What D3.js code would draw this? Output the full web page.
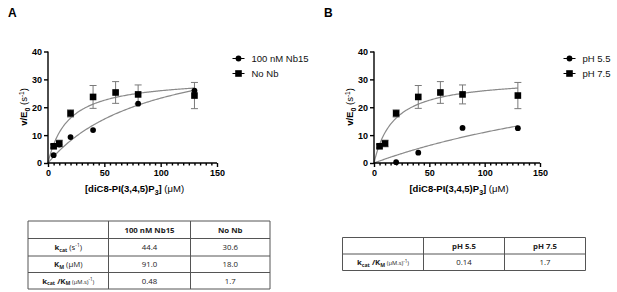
<!DOCTYPE html>
<html><head><meta charset="utf-8">
<script src="https://cdn.jsdelivr.net/npm/d3@7"></script>
<style>body{margin:0;background:#fff}svg{display:block}</style>
</head><body>
<svg id="c" width="617" height="292"></svg>
<script>
// ---- data ----
const conc = [5, 10, 20, 40, 60, 80, 130];
const noNb = [6.0, 7.0, 17.8, 23.7, 25.3, 24.6, 24.2];
const noNbErr = [0.6, 1.2, 1.3, 4.1, 3.9, 3.4, 4.7];
const nb15Conc = [5, 10, 20, 40, 80, 130];
const nb15 = [2.8, 6.6, 9.3, 11.8, 21.3, 26.0];
const ph55Conc = [20, 40, 80, 130];
const ph55 = [0.3, 3.7, 12.6, 12.5];
// Michaelis-Menten fit parameters [Vmax, Km]
const fitNoNb = [30.6, 18.0];
const fitNb15 = [44.4, 91.0];
const fitPh55 = [44.0, 300.0];
const xTicks = [0, 50, 100, 150];
const yTicks = [0, 10, 20, 30, 40];
const legendA = ["100 nM Nb15", "No Nb"];
const legendB = ["pH 5.5", "pH 7.5"];
const tableAHead = ["", "100 nM Nb15", "No Nb"];
const tableARows = [["kcat", "44.4", "30.6"], ["KM", "91.0", "18.0"], ["ratio", "0.48", "1.7"]];
const tableBHead = ["", "pH 5.5", "pH 7.5"];
const tableBRows = [["ratio", "0.14", "1.7"]];

const svg = d3.select("#c");
const FONT = "'Liberation Sans', Arial, sans-serif";

function panel(x0, x1, letterX, opts) {
  const g = svg.append("g");
  const x = d3.scaleLinear().domain([0, 150]).range([x0, x1]);
  const y = d3.scaleLinear().domain([0, 40]).range([163, 51.5]);
  g.append("text").attr("x", letterX).attr("y", 17).attr("font-family", FONT)
    .attr("font-weight", "bold").attr("font-size", 12).text(opts.letter);
  const line = d3.line().x(d => x(d[0])).y(d => y(d[1]));
  opts.fits.forEach(p => {
    const pts = d3.range(0, 130.01, 1).map(s => [s, p[0] * s / (p[1] + s)]);
    g.append("path").attr("d", line(pts)).attr("fill", "none")
      .attr("stroke", "#8a8a8a").attr("stroke-width", 1.2);
  });
  conc.forEach((c, i) => {
    const cx = x(c), lo = y(noNb[i] - noNbErr[i]), hi = y(noNb[i] + noNbErr[i]);
    g.append("line").attr("x1", cx).attr("x2", cx).attr("y1", lo).attr("y2", hi)
      .attr("stroke", "#7a7a7a").attr("stroke-width", 1);
    [lo, hi].forEach(yy => g.append("line").attr("x1", cx - 3.5).attr("x2", cx + 3.5)
      .attr("y1", yy).attr("y2", yy).attr("stroke", "#7a7a7a").attr("stroke-width", 1));
  });
  opts.circX.forEach((c, i) => {
    g.append("circle").attr("cx", x(c)).attr("cy", y(opts.circY[i])).attr("r", 2.9).attr("fill", "#000");
  });
  conc.forEach((c, i) => {
    g.append("rect").attr("x", x(c) - 3.3).attr("y", y(noNb[i]) - 3.3)
      .attr("width", 6.6).attr("height", 6.6).attr("fill", "#000");
  });
  const xa = g.append("g").attr("transform", `translate(0,${y(0)})`)
    .call(d3.axisBottom(x).tickValues(xTicks).tickSize(4).tickPadding(3).tickFormat(d3.format("d")));
  const xm = g.append("g").attr("transform", `translate(0,${y(0)})`)
    .call(d3.axisBottom(x).tickValues(d3.range(5, 150, 5).filter(v => v % 50)).tickSize(2.5).tickFormat(""));
  xm.select(".domain").remove();
  const ya = g.append("g").attr("transform", `translate(${x(0)},0)`)
    .call(d3.axisLeft(y).tickValues(yTicks).tickSize(4).tickPadding(2).tickFormat(d3.format("d")));
  [xa, xm, ya].forEach(a => {
    a.selectAll("path,line").attr("stroke", "#000").attr("stroke-width", 1.4);
    a.selectAll("text").attr("font-family", FONT).attr("font-weight", "bold")
      .attr("font-size", 9).attr("fill", "#000");
  });
  xa.select(".domain").attr("d", `M${x0},0H${x1}`);
  ya.select(".domain").attr("d", `M0,${y(0)}V${y(40)}`);
  const xt = g.append("text").attr("x", (x0 + x1) / 2 + 2).attr("y", 192)
    .attr("text-anchor", "middle").attr("font-family", FONT).attr("font-size", 9.5);
  xt.append("tspan").attr("font-weight", "bold").text("[diC8-PI(3,4,5)P");
  xt.append("tspan").attr("font-weight", "bold").attr("font-size", 7).attr("dy", 2.5).text("3");
  xt.append("tspan").attr("font-weight", "bold").attr("dy", -2.5).text("]");
  xt.append("tspan").text(" (μM)");
  const yt = g.append("text").attr("transform", `translate(${x0 - 21},107) rotate(-90)`)
    .attr("text-anchor", "middle").attr("font-family", FONT).attr("font-size", 9.5);
  yt.append("tspan").attr("font-weight", "bold").text("v/E");
  yt.append("tspan").attr("font-weight", "bold").attr("font-size", 7).attr("dy", 2.5).text("0");
  yt.append("tspan").attr("dy", -2.5).text(" (s");
  yt.append("tspan").attr("font-size", 6.5).attr("dy", -3.5).text("-1");
  yt.append("tspan").attr("dy", 3.5).text(")");
  opts.legend.forEach((t, i) => {
    const ly = 58.5 + i * 15, lx = opts.legX;
    g.append("line").attr("x1", lx - 6).attr("x2", lx + 6).attr("y1", ly).attr("y2", ly)
      .attr("stroke", "#000").attr("stroke-width", 1);
    if (i === 0) g.append("circle").attr("cx", lx).attr("cy", ly).attr("r", 2.9).attr("fill", "#000");
    else g.append("rect").attr("x", lx - 3.3).attr("y", ly - 3.3).attr("width", 6.6).attr("height", 6.6).attr("fill", "#000");
    g.append("text").attr("x", lx + 13).attr("y", ly + 3.3).attr("font-family", FONT)
      .attr("font-size", 9.5).attr("fill", "#111").text(t);
  });
}

panel(48, 217, 8, { letter: "A", fits: [fitNoNb, fitNb15], circX: nb15Conc, circY: nb15, legend: legendA, legX: 238.5 });
panel(374, 540, 324, { letter: "B", fits: [fitNoNb, fitPh55], circX: ph55Conc, circY: ph55, legend: legendB, legX: 569.5 });

// ---- tables ----
const TF = "'Open Sans', 'Liberation Sans', sans-serif";
function rowLabel(t, key) {
  if (key === "kcat") {
    t.append("tspan").attr("font-weight", "bold").text("k");
    t.append("tspan").attr("font-weight", "bold").attr("font-size", 5.2).attr("dy", 1.8).text("cat");
    t.append("tspan").attr("dy", -1.8).text(" (s");
    t.append("tspan").attr("font-size", 5).attr("dy", -2.6).text("-1");
    t.append("tspan").attr("dy", 2.6).text(")");
  } else if (key === "KM") {
    t.append("tspan").attr("font-weight", "bold").text("K");
    t.append("tspan").attr("font-weight", "bold").attr("font-size", 5.2).attr("dy", 1.8).text("M");
    t.append("tspan").attr("dy", -1.8).text(" (μM)");
  } else {
    t.append("tspan").attr("font-weight", "bold").text("k");
    t.append("tspan").attr("font-weight", "bold").attr("font-size", 5.2).attr("dy", 1.8).text("cat");
    t.append("tspan").attr("font-weight", "bold").attr("dy", -1.8).text(" /K");
    t.append("tspan").attr("font-weight", "bold").attr("font-size", 5.2).attr("dy", 1.8).text("M");
    t.append("tspan").attr("font-size", 5.8).attr("dy", -1.8).text(" (μM.s)");
    t.append("tspan").attr("font-size", 4.6).attr("dy", -2.3).text("-1");
    t.append("tspan").attr("font-size", 5.8).attr("dy", 2.3).text(")");
  }
}
function table(cols, rows, head, body) {
  const g = svg.append("g");
  const xs = d3.scaleOrdinal().domain([0, 1, 2, 3]).range(cols);
  const ys = d3.scaleOrdinal().domain(d3.range(rows.length)).range(rows);
  const allRows = [head].concat(body);
  rows.forEach(r => g.append("line").attr("x1", cols[0]).attr("x2", cols[3]).attr("y1", r).attr("y2", r)
    .attr("stroke", "#555").attr("stroke-width", 1));
  cols.forEach(c => g.append("line").attr("x1", c).attr("x2", c).attr("y1", rows[0]).attr("y2", rows[rows.length - 1])
    .attr("stroke", "#555").attr("stroke-width", 1));
  allRows.forEach((r, ri) => {
    const cy = (ys(ri) + ys(ri + 1)) / 2 + 2.8;
    r.forEach((cell, ci) => {
      const cx = (xs(ci) + xs(ci + 1)) / 2;
      const t = g.append("text").attr("x", cx).attr("y", cy).attr("text-anchor", "middle")
        .attr("font-family", TF).attr("font-size", 7.8).attr("fill", "#222");
      if (ri === 0) t.attr("font-weight", "bold").text(cell);
      else if (ci === 0) rowLabel(t, cell);
      else t.text(cell);
    });
  });
}
table([28, 108.5, 190.5, 270], [221, 238.5, 256, 272.5, 289], tableAHead, tableARows);
table([342.5, 423.5, 504.5, 585.5], [237.5, 254, 270.5], tableBHead, tableBRows);
</script>
</body></html>
